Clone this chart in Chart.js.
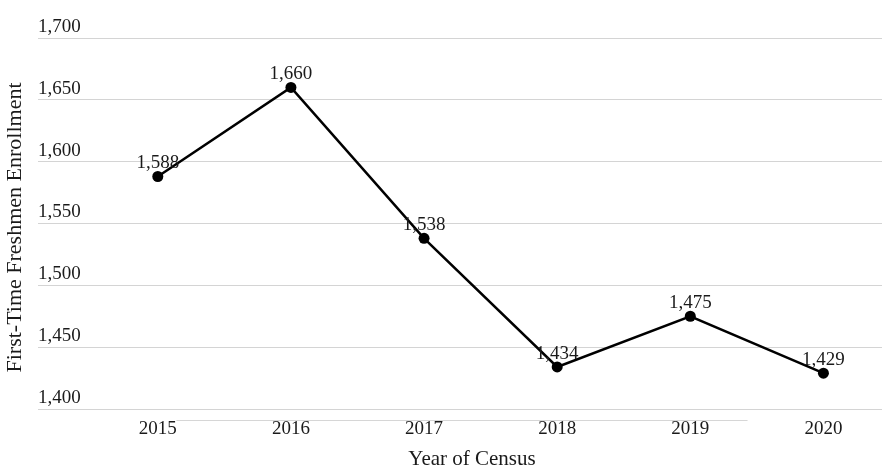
<!DOCTYPE html>
<html>
<head>
<meta charset="utf-8">
<script src="https://cdn.jsdelivr.net/npm/chart.js@4/dist/chart.umd.min.js"></script>
<style>
  html, body { margin: 0; padding: 0; background: #fff; overflow: hidden; }
  #wrap { width: 882px; height: 469px; position: relative; }
  canvas { display: block; }
</style>
</head>
<body>
<div id="wrap"><canvas id="c"></canvas></div>
<script>
// Census years and first-time freshmen counts
const years = ['2015', '2016', '2017', '2018', '2019', '2020'];
const enrollment = [1588, 1660, 1538, 1434, 1475, 1429];

// Value axis range and step
const yMin = 1400;
const yMax = 1700;
const yStep = 50;

// Horizontal extent of the category axis, in category-index units
const xMin = -0.9;
const xMax = 5.44;

// Short rule below the plot, in category-index units
const ruleFrom = 0.14;
const ruleTo = 4.43;

// Axis titles
const xTitle = 'Year of Census';
const yTitle = 'First-Time Freshmen Enrollment';

const serif = "'Liberation Serif', 'Times New Roman', serif";
const ink = '#1a1a1a';

const points = years.map((_, i) => ({ x: i, y: enrollment[i] }));

// Writes each value above its point
const valueLabels = {
  id: 'valueLabels',
  afterDatasetsDraw(chart) {
    const ctx = chart.ctx;
    const meta = chart.getDatasetMeta(0);
    ctx.save();
    ctx.font = '19px ' + serif;
    ctx.fillStyle = ink;
    ctx.textAlign = 'center';
    ctx.textBaseline = 'middle';
    meta.data.forEach((pt, i) => {
      ctx.fillText(enrollment[i].toLocaleString('en-US'), pt.x, pt.y - 13);
    });
    ctx.restore();
  }
};

// Thin rule just under the plot area
const baseRule = {
  id: 'baseRule',
  beforeDatasetsDraw(chart) {
    const { ctx, scales } = chart;
    const y = Math.round(scales.y.bottom + 11) + 0.5;
    ctx.save();
    ctx.strokeStyle = '#d6d6d6';
    ctx.lineWidth = 1;
    ctx.beginPath();
    ctx.moveTo(scales.x.getPixelForValue(ruleFrom), y);
    ctx.lineTo(scales.x.getPixelForValue(ruleTo), y);
    ctx.stroke();
    ctx.restore();
  }
};

// Axis titles, placed beside the plot
const axisTitles = {
  id: 'axisTitles',
  afterDraw(chart) {
    const { ctx, chartArea, height } = chart;
    ctx.save();
    ctx.fillStyle = ink;
    ctx.textAlign = 'center';
    ctx.textBaseline = 'middle';
    ctx.font = '21px ' + serif;
    ctx.fillText(xTitle, (chartArea.left + chartArea.right) / 2 + 12, height - 10);
    ctx.translate(15, (chartArea.top + chartArea.bottom) / 2 + 4);
    ctx.rotate(-Math.PI / 2);
    ctx.font = '22px ' + serif;
    ctx.fillText(yTitle, 0, 0);
    ctx.restore();
  }
};

new Chart(document.getElementById('c'), {
  type: 'line',
  data: {
    datasets: [{
      data: points,
      borderColor: '#000',
      borderWidth: 2.5,
      tension: 0,
      pointRadius: 5.5,
      pointBackgroundColor: '#000',
      pointBorderWidth: 0,
      clip: false
    }]
  },
  options: {
    responsive: true,
    maintainAspectRatio: false,
    animation: false,
    layout: { autoPadding: false, padding: { top: 38, right: 0, bottom: 0, left: 0 } },
    plugins: {
      legend: { display: false },
      tooltip: { enabled: false }
    },
    scales: {
      x: {
        type: 'linear',
        min: xMin,
        max: xMax,
        afterBuildTicks(scale) {
          scale.ticks = years.map((_, i) => ({ value: i }));
        },
        afterFit(scale) {
          scale.height = 60;
          scale.paddingLeft = 0;
          scale.paddingRight = 0;
        },
        ticks: {
          autoSkip: false,
          maxRotation: 0,
          padding: 9,
          color: ink,
          font: { family: serif, size: 19 },
          callback: (v) => years[v] !== undefined ? years[v] : ''
        },
        grid: { display: false, drawTicks: false },
        border: { display: false }
      },
      y: {
        min: yMin,
        max: yMax,
        afterFit(scale) {
          scale.width = 38;
          scale.paddingTop = 0;
          scale.paddingBottom = 0;
        },
        ticks: {
          stepSize: yStep,
          mirror: true,
          padding: 0,
          labelOffset: -11,
          color: ink,
          font: { family: serif, size: 19 },
          callback: (v) => Number(v).toLocaleString('en-US')
        },
        grid: { color: '#d4d4d4', lineWidth: 1, drawTicks: false },
        border: { display: false }
      }
    }
  },
  plugins: [baseRule, valueLabels, axisTitles]
});
</script>
</body>
</html>
